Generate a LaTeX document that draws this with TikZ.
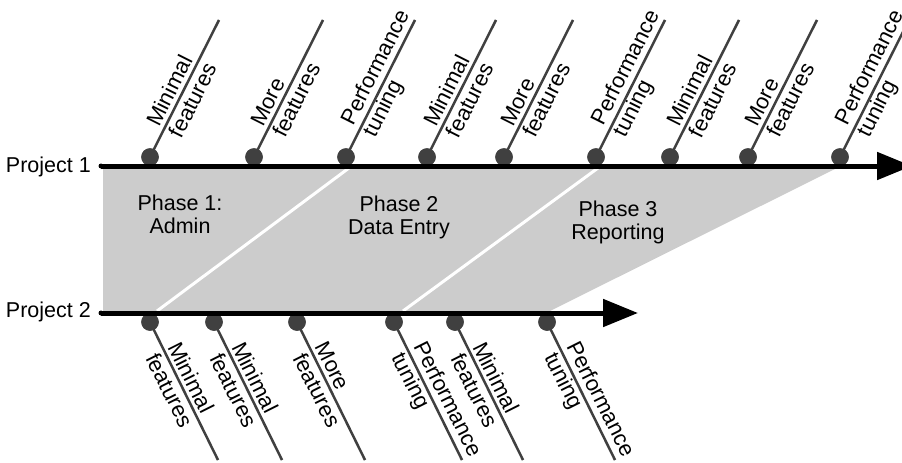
\documentclass[tikz,border=0pt]{standalone}
\usepackage{fontspec}
\setmainfont{Liberation Sans}
\usetikzlibrary{arrows.meta,calc}
\definecolor{dk}{HTML}{404040}
\definecolor{bandgray}{HTML}{CCCCCC}
\begin{document}
\begin{tikzpicture}[x=1pt,y=-1pt,
  txt/.style={font=\fontsize{21.5}{23}\selectfont, inner sep=0pt},
  dot/.style={circle,fill=dk,minimum size=17.5pt,inner sep=0pt},
  spoke/.style={draw=dk,line width=2.5pt},
  axisline/.style={line width=5pt,-{Triangle[length=35pt,width=27pt]}},
  sepline/.style={white,line width=3pt},
  uplbl/.style={txt,font=\fontsize{22}{25}\selectfont,align=left,anchor=west,rotate=63.3},
  dnlbl/.style={txt,font=\fontsize{22}{25}\selectfont,align=left,anchor=west,rotate=-63.3},
  phase/.style={txt,align=center}]
\useasboundingbox (0,0) rectangle (902,463);
\clip (0,0) rectangle (902,463);
% shaded band
\fill[bandgray] (103,168) -- (837,168) -- (550,311) -- (103,311) -- cycle;
\coordinate (w1a) at (349,168); \coordinate (w1b) at (157,311);
\coordinate (w2a) at (598,168); \coordinate (w2b) at (403,311);
\draw[sepline] (w1a) -- (w1b);
\draw[sepline] (w2a) -- (w2b);
% phase labels
\node[phase] (ph1) at (180,214.5) {Phase 1:\\Admin};
\node[phase] (ph2) at (399,217) {Phase 2\\Data Entry};
\node[phase] (ph3) at (618,222) {Phase 3\\Reporting};
% top spokes
\foreach \i/\x/\t in {1/150/{Minimal\\features},2/254/{More\\features},3/346/{Performance\\tuning},
  4/427/{Minimal\\features},5/504/{More\\features},6/596/{Performance\\tuning},
  7/670/{Minimal\\features},8/748/{More\\features},9/840/{Performance\\tuning}}{
  \coordinate (te\i) at (\x+69,20);
  \node[dot] (t\i) at (\x,157) {};
  \draw[spoke] (t\i.center) -- (te\i);
  \node[dot] at (t\i) {};
  \node[uplbl] (tl\i) at ($(t\i.center)!30pt!(te\i)$) {\t};
}
% bottom spokes
\foreach \i/\x/\t in {1/150/{Minimal\\features},2/214/{Minimal\\features},3/297/{More\\features},
  4/394/{Performance\\tuning},5/455/{Minimal\\features},6/547/{Performance\\tuning}}{
  \coordinate (be\i) at (\x+68,460);
  \node[dot] (b\i) at (\x,322) {};
  \draw[spoke] (b\i.center) -- (be\i);
  \node[dot] at (b\i) {};
  \node[dnlbl] (bl\i) at ($(b\i.center)!30pt!(be\i)$) {\t};
}
% axes
\coordinate (a1s) at (101,166); \coordinate (a1e) at (912,166);
\coordinate (a2s) at (101,313); \coordinate (a2e) at (638,313);
\draw[axisline] (a1s) -- (a1e);
\draw[axisline] (a2s) -- (a2e);
\fill (a1s) circle (2.5pt);
\fill (a2s) circle (2.5pt);
% project labels
\node[txt,anchor=base east] (p1) at (91,172) {Project 1};
\node[txt,anchor=base east] (p2) at (91,317) {Project 2};
\end{tikzpicture}
\end{document}
